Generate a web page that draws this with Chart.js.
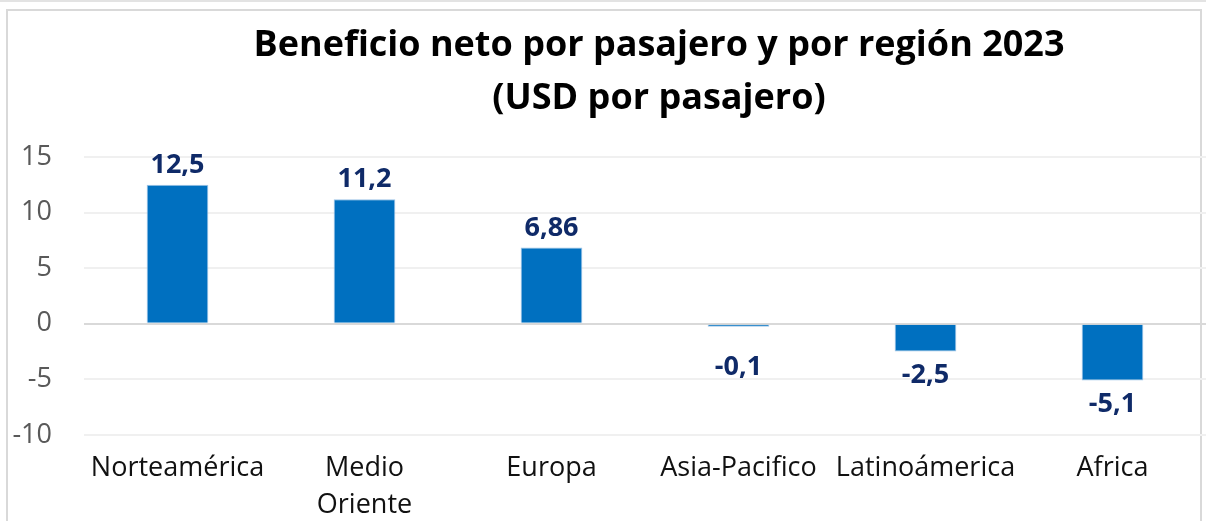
<!DOCTYPE html>
<html>
<head>
<meta charset="utf-8">
<script src="https://cdn.jsdelivr.net/npm/chart.js"></script>
<style>
  body { margin: 0; background: #fff; }
  #frame { position: absolute; left: 6px; top: 9px; width: 1192px; height: 520px; border: 2px solid #d9d9d9; }
  #topline { position: absolute; left: 0; top: 0; width: 1206px; height: 2px; background: #e3e3e3; }
  #wrap { position: absolute; left: 0; top: 0; width: 1206px; height: 521px; }
</style>
</head>
<body>
<div id="topline"></div>
<div id="frame"></div>
<div id="wrap"><canvas id="myChart" width="1206" height="521"></canvas></div>
<script>
// chart data
var regiones = ["Norteamérica", ["Medio", "Oriente"], "Europa", "Asia-Pacifico", "Latinoámerica", "Africa"];
var beneficio = [12.5, 11.2, 6.86, -0.1, -2.5, -5.1];
var etiquetas = ["12,5", "11,2", "6,86", "-0,1", "-2,5", "-5,1"];
var titulo = ["Beneficio neto por pasajero y por región 2023", "(USD por pasajero)"];
var yTicks = [-10, -5, 0, 5, 10, 15];

var fontName = "'Open Sans', sans-serif";

// simple title drawn over the plot area
var titlePlugin = {
  id: 'titulo',
  afterDraw: function(chart) {
    var c = chart.ctx;
    var area = chart.chartArea;
    var cx = (area.left + area.right) / 2 + 14;
    c.save();
    c.fillStyle = '#000';
    c.font = "bold 36px " + fontName;
    c.textAlign = 'center';
    c.textBaseline = 'middle';
    titulo.forEach(function(t, i) {
      c.fillText(t, cx, 46 + i * 53);
    });
    c.restore();
  }
};

// value labels at the bar ends
var labelPlugin = {
  id: 'etiquetas',
  afterDatasetsDraw: function(chart) {
    var c = chart.ctx;
    var meta = chart.getDatasetMeta(0);
    var zero = chart.scales.y.getPixelForValue(0);
    c.save();
    c.fillStyle = '#0f2a68';
    c.font = "bold 27px " + fontName;
    c.textAlign = 'center';
    meta.data.forEach(function(bar, i) {
      if (beneficio[i] >= 0) {
        c.textBaseline = 'bottom';
        c.fillText(etiquetas[i], bar.x, bar.y - 6);
      } else {
        c.textBaseline = 'top';
        c.fillText(etiquetas[i], bar.x, Math.max(bar.y + 10, zero + 30));
      }
    });
    c.restore();
  }
};

const ctx = document.getElementById('myChart');

new Chart(ctx, {
  type: 'bar',
  data: {
    labels: regiones,
    datasets: [{
      data: beneficio,
      backgroundColor: '#0070c0',
      borderColor: '#9dc3e6',
      borderWidth: 1,
      minBarLength: 3,
      barPercentage: 0.66,
      categoryPercentage: 0.5
    }]
  },
  options: {
    responsive: false,
    animation: false,
    layout: { padding: { top: 157, right: 0, left: 0, bottom: 0 } },
    plugins: {
      legend: { display: false },
      tooltip: { enabled: false }
    },
    scales: {
      x: {
        afterFit: function(scale) { scale.height = 86; },
        grid: { display: false },
        border: { display: false },
        ticks: {
          color: '#111',
          font: { family: fontName, size: 27, lineHeight: 1.4 },
          maxRotation: 0,
          autoSkip: false,
          padding: 6
        }
      },
      y: {
        min: -10,
        max: 15,
        afterBuildTicks: function(scale) {
          scale.ticks = yTicks.map(function(v) { return { value: v }; });
        },
        afterFit: function(scale) { scale.width = 84; },
        border: { display: false },
        grid: {
          color: function(c) { return c.tick && c.tick.value === 0 ? '#d9d9d9' : '#f0f0f0'; },
          lineWidth: 2,
          drawTicks: false
        },
        ticks: {
          color: '#595959',
          font: { family: fontName, size: 27 },
          padding: 32
        }
      }
    }
  },
  plugins: [titlePlugin, labelPlugin]
});
</script>
</body>
</html>
